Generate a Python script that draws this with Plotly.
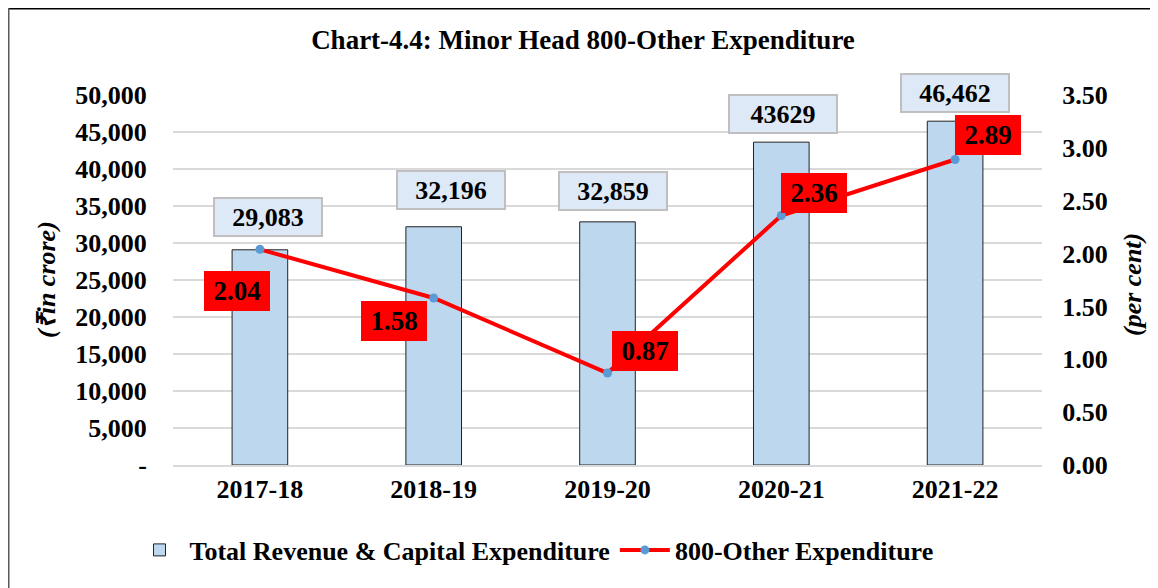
import plotly.graph_objects as go

years = ["2017-18", "2018-19", "2019-20", "2020-21", "2021-22"]
total_exp = [29083, 32196, 32859, 43629, 46462]
total_labels = ["29,083", "32,196", "32,859", "43629", "46,462"]
other_pct = [2.04, 1.58, 0.87, 2.36, 2.89]
left_ticks = [0, 5000, 10000, 15000, 20000, 25000, 30000, 35000, 40000, 45000, 50000]
left_ticktext = ["-", "5,000", "10,000", "15,000", "20,000", "25,000", "30,000",
                 "35,000", "40,000", "45,000", "50,000"]
right_ticks = [0, 0.5, 1.0, 1.5, 2.0, 2.5, 3.0, 3.5]

FONT = "Liberation Serif"
FS = 26

# figure geometry (page body has an 8px margin)
W, H = 1150, 580
L, T, R, B = 165, 87, 116, 123
PW, PH = W - L - R, H - T - B

def px(xfig):
    return (xfig - L) / PW

def py(yfig):
    return (H - B - yfig) / PH

fig = go.Figure()
fig.add_trace(go.Bar(
    x=years, y=total_exp, name="<b>Total Revenue & Capital Expenditure</b>",
    marker=dict(color="#bdd7ee", line=dict(color="#222222", width=1)),
    width=0.32, yaxis="y",
))
fig.add_trace(go.Scatter(
    x=years, y=other_pct, name="<b>800-Other Expenditure</b>", yaxis="y2",
    mode="lines+markers",
    line=dict(color="#ff0000", width=4),
    marker=dict(color="#5b9bd5", size=9),
))

annotations = []
bar_shifts = [(8, 13), (17, 17), (5, 11), (2, 8), (0, 8)]
for yr, v, lab, (xs, ys) in zip(years, total_exp, total_labels, bar_shifts):
    annotations.append(dict(
        x=yr, y=v, xref="x", yref="y", text="<b>%s</b>" % lab, showarrow=False,
        yanchor="bottom", xshift=xs, yshift=ys,
        font=dict(family=FONT, size=FS, color="black"),
        bgcolor="#dde9f6", bordercolor="#bfbfbf", borderwidth=2,
        width=104, height=34,
    ))
line_shifts = [(-23, -42), (-40, -23), (37, 22), (33, 23), (33, 24)]
for yr, v, (xs, ys) in zip(years, other_pct, line_shifts):
    annotations.append(dict(
        x=yr, y=v, xref="x", yref="y2", text="<b>%.2f</b>" % v, showarrow=False,
        xshift=xs, yshift=ys,
        font=dict(family=FONT, size=FS + 1, color="black"),
        bgcolor="#ff0000", bordercolor="#ff0000", borderwidth=1,
        width=62, height=36,
    ))
# axis titles
annotations.append(dict(
    text="<b><i>(₹in crore)</i></b>", xref="paper", yref="paper",
    x=px(38), y=py(272), textangle=-90, showarrow=False,
    xanchor="center", yanchor="middle",
    font=dict(family=FONT, size=FS, color="black")))
annotations.append(dict(
    text="<b><i>(per cent)</i></b>", xref="paper", yref="paper",
    x=px(1124), y=py(277), textangle=-90, showarrow=False,
    xanchor="center", yanchor="middle",
    font=dict(family=FONT, size=FS, color="black")))

fig.update_layout(
    width=W, height=H,
    margin=dict(l=L, r=R, t=T, b=B),
    paper_bgcolor="white", plot_bgcolor="white",
    font=dict(family=FONT, size=FS, color="black"),
    title=dict(text="<b>Chart-4.4: Minor Head 800-Other Expenditure</b>",
               xref="container", x=575 / W, xanchor="center",
               yref="container", y=1 - 32 / H, yanchor="middle",
               font=dict(family=FONT, size=FS + 1, color="black")),
    xaxis=dict(showgrid=False, showline=True, linecolor="#d9d9d9", linewidth=2,
               tickfont=dict(family=FONT, size=FS, color="black"),
               ticks="", tickvals=years, ticktext=["<b>%s</b>" % y for y in years]),
    yaxis=dict(range=[0, 50000], tickvals=left_ticks,
               ticktext=["<b>%s</b>" % t for t in left_ticktext],
               showgrid=True, gridcolor="#d9d9d9", gridwidth=2, zeroline=False,
               ticks="outside", ticklen=20, tickcolor="rgba(0,0,0,0)",
               tickfont=dict(family=FONT, size=FS, color="black")),
    yaxis2=dict(range=[0, 3.5], tickvals=right_ticks,
                ticktext=["<b>%.2f</b>" % t for t in right_ticks],
                overlaying="y", side="right",
                showgrid=False, zeroline=False,
                ticks="outside", ticklen=14, tickcolor="rgba(0,0,0,0)",
                tickfont=dict(family=FONT, size=FS, color="black")),
    legend=dict(orientation="h", x=px(526), xanchor="center", y=py(542), yanchor="middle",
                font=dict(family=FONT, size=FS, color="black"),
                itemwidth=50, traceorder="normal"),
    annotations=annotations,
    shapes=[
        dict(type="line", xref="paper", yref="paper",
             x0=px(0), x1=px(W), y0=py(0), y1=py(0),
             line=dict(color="#000000", width=3)),
        dict(type="line", xref="paper", yref="paper",
             x0=px(0), x1=px(0), y0=py(0), y1=py(H),
             line=dict(color="#595959", width=3)),
    ],
)

fig.write_html("out.html")
